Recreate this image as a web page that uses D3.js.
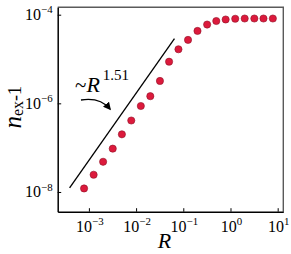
<!DOCTYPE html>
<html>
<head>
<meta charset="utf-8">
<script src="https://cdn.jsdelivr.net/npm/d3@7"></script>
<style>
  body { margin: 0; background: #fff; }
  svg { display: block; }
</style>
</head>
<body>
<script>
// data
const rValues = [7.9e-4, 1.26e-3, 2.0e-3, 3.2e-3, 5.0e-3, 7.9e-3, 1.26e-2, 2.0e-2, 3.2e-2, 5.0e-2,
  7.9e-2, 0.126, 0.2, 0.32, 0.5, 0.79, 1.26, 2.0, 3.2, 5.0, 7.9];
const nexValues = [1.2e-8, 2.45e-8, 4.8e-8, 9.5e-8, 2.0e-7, 4.1e-7, 8.7e-7, 1.45e-6, 3.2e-6, 8.7e-6,
  1.66e-5, 2.7e-5, 4.3e-5, 6.0e-5, 7.2e-5, 7.8e-5, 8.1e-5, 8.2e-5, 8.2e-5, 8.2e-5, 8.2e-5];
const fitR = [3.9e-4, 6.5e-2];
const fitN = [1.23e-8, 2.9e-5];
const xTickExps = [-3, -2, -1, 0, 1];
const yTickExps = [-8, -6, -4];

"use strict";
(function () {
  var W = 291, H = 254;
  var FONT = "'Liberation Serif', 'Times New Roman', 'DejaVu Serif', serif";
  var margin = {top: 7.3, right: 7.7, bottom: 42.3, left: 57.7},
      width = W - margin.left - margin.right,
      height = H - margin.top - margin.bottom;

  var svg = d3.select("body").append("svg")
    .attr("width", W).attr("height", H)
    .attr("font-family", FONT);
  var g = svg.append("g")
    .attr("transform", "translate(" + margin.left + "," + margin.top + ")");

  var x = d3.scaleLog().domain([Math.pow(10, -3.661), Math.pow(10, 1.119)]).range([0, width]);
  var y = d3.scaleLog().domain([Math.pow(10, -8.445), Math.pow(10, -3.833)]).range([height, 0]);

  // top / right frame (grey)
  g.append("path")
    .attr("d", "M0,0H" + width + "V" + height)
    .attr("fill", "none").attr("stroke", "#5a5a5a").attr("stroke-width", 1.4);

  function addText(parent) {
    return parent.append("text").attr("font-family", FONT).attr("fill", "#000");
  }

  function superLabel(sel, base, exp, fs) {
    sel.append("tspan").text(base).attr("font-size", fs);
    sel.append("tspan").text(exp < 0 ? "\u2212" + (-exp) : exp)
      .attr("font-size", fs * 0.68)
      .attr("dy", -fs * 0.42);
  }

  // x axis
  var xAxis = g.append("g")
    .attr("transform", "translate(0," + height + ")")
    .call(d3.axisBottom(x)
      .tickValues(xTickExps.map(function (e) { return Math.pow(10, e); }))
      .tickSizeInner(-3.5).tickSizeOuter(0).tickFormat(""));
  xAxis.select(".domain").attr("stroke", "#000").attr("stroke-width", 1.5);
  xAxis.selectAll(".tick line").attr("stroke-width", 1);
  xAxis.selectAll(".tick text").remove();
  xTickExps.forEach(function (e) {
    var t = addText(g)
      .attr("x", x(Math.pow(10, e)) + 1)
      .attr("y", height + 20)
      .attr("text-anchor", "middle");
    superLabel(t, "10", e, 16);
  });

  // y axis
  var yAxis = g.append("g")
    .call(d3.axisLeft(y)
      .tickValues(yTickExps.map(function (e) { return Math.pow(10, e); }))
      .tickSizeInner(-3.5).tickSizeOuter(0).tickFormat(""));
  yAxis.select(".domain").attr("stroke", "#000").attr("stroke-width", 1.5);
  yAxis.selectAll(".tick line").attr("stroke-width", 1);
  yAxis.selectAll(".tick text").remove();
  yTickExps.forEach(function (e) {
    var t = addText(g)
      .attr("x", -5)
      .attr("y", y(Math.pow(10, e)) + 5.5)
      .attr("text-anchor", "end");
    superLabel(t, "10", e, 16);
  });

  // axis titles
  addText(svg)
    .attr("x", margin.left + width / 2 - 6)
    .attr("y", 248)
    .attr("text-anchor", "middle")
    .attr("font-size", 22).attr("font-style", "italic")
    .text("R");

  var yl = addText(svg)
    .attr("transform", "translate(21," + (margin.top + 100) + ") rotate(-90)")
    .attr("text-anchor", "middle");
  yl.append("tspan").text("n").attr("font-size", 25).attr("font-style", "italic");
  yl.append("tspan").text("ex").attr("font-size", 16).attr("dy", 2);
  yl.append("tspan").text("-1").attr("font-size", 18).attr("dy", -2);

  // power-law guide line
  var line = d3.line()
    .x(function (d) { return x(d[0]); })
    .y(function (d) { return y(d[1]); });
  g.append("path")
    .attr("d", line(d3.zip(fitR, fitN)))
    .attr("fill", "none").attr("stroke", "#000").attr("stroke-width", 1.3);

  // annotation
  var ann = addText(svg).attr("x", 75).attr("y", 92);
  ann.append("tspan").text("~").attr("font-size", 21);
  ann.append("tspan").text("R").attr("font-size", 22).attr("font-style", "italic");
  ann.append("tspan").text("1.51").attr("font-size", 15).attr("dx", 3).attr("dy", -12);

  svg.append("defs").append("marker")
    .attr("id", "head").attr("viewBox", "0 0 10 10")
    .attr("refX", 8).attr("refY", 5)
    .attr("markerWidth", 6).attr("markerHeight", 6)
    .attr("orient", "auto")
    .append("path").attr("d", "M0,0L10,5L0,10z").attr("fill", "#000");
  svg.append("path")
    .attr("d", "M81,100Q100,97 110,109")
    .attr("fill", "none").attr("stroke", "#000").attr("stroke-width", 1.3)
    .attr("marker-end", "url(#head)");

  // data points
  g.selectAll("circle.pt")
    .data(d3.zip(rValues, nexValues))
    .enter().append("circle")
    .attr("class", "pt")
    .attr("cx", function (d) { return x(d[0]); })
    .attr("cy", function (d) { return y(d[1]); })
    .attr("r", 3.6)
    .attr("fill", "#dc1a3c")
    .attr("stroke", "#8e1027")
    .attr("stroke-width", 0.6);
})();
</script>
</body>
</html>
